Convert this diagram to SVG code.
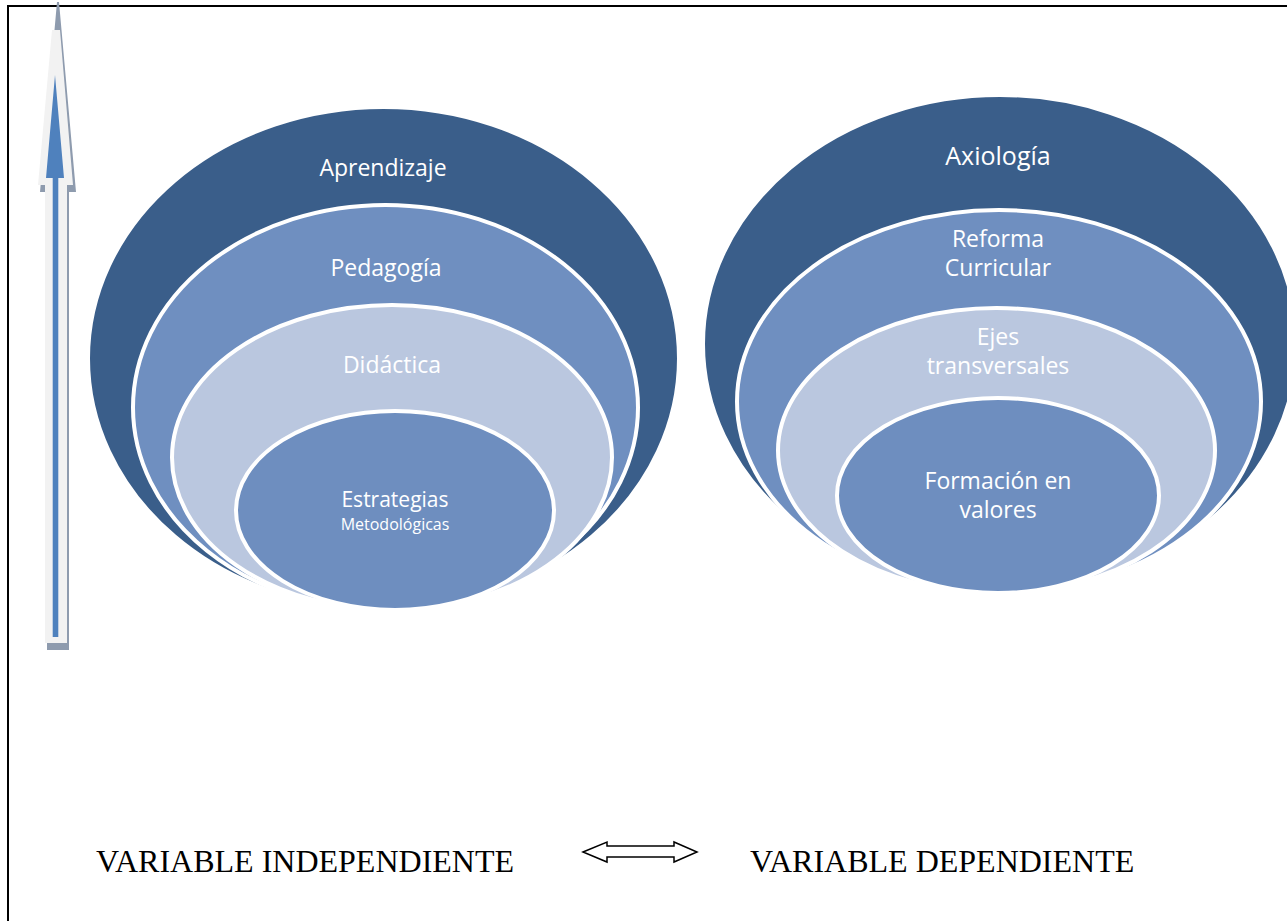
<svg xmlns="http://www.w3.org/2000/svg" width="1287" height="921" viewBox="0 0 1287 921">
<style>
.ring{stroke:#FFFFFF;stroke-width:4}
.dark{fill:#3A5E8A}
.mid{fill:#6F8FC0}
.light{fill:#BAC7DF}
.inner{fill:#6E8EBF}
.t{font-family:"Open Sans","Liberation Sans",sans-serif;fill:#FFFFFF;text-anchor:middle}
.v{font-family:"Liberation Serif","Times New Roman",serif;fill:#000000;font-size:32px}
</style>
<rect x="0" y="0" width="1287" height="921" fill="#FFFFFF"/>
<g id="border" stroke="#000000" stroke-width="2" fill="none">
<line x1="7" y1="6" x2="1287" y2="6"/>
<line x1="8" y1="6" x2="8" y2="921"/>
</g>
<g id="left-target">
<g id="aprendizaje">
<ellipse class="ring dark" cx="383.5" cy="358.5" rx="295.5" ry="251.5"/>
<text class="t" x="383" y="176" font-size="23">Aprendizaje</text>
</g>
<g id="pedagogia">
<ellipse class="ring mid" cx="385.5" cy="407.5" rx="252.5" ry="202.5"/>
<text class="t" x="386" y="276" font-size="23">Pedagogía</text>
</g>
<g id="didactica">
<ellipse class="ring light" cx="392" cy="457.5" rx="220" ry="152.5"/>
<text class="t" x="392" y="373" font-size="23">Didáctica</text>
</g>
<g id="estrategias">
<ellipse class="ring inner" cx="395" cy="510.5" rx="159" ry="99.5"/>
<text class="t" x="395" y="507" font-size="21">Estrategias</text>
<text class="t" x="395" y="530" font-size="16">Metodológicas</text>
</g>
</g>
<g id="right-target">
<g id="axiologia">
<ellipse class="ring dark" cx="1000" cy="344" rx="297" ry="249"/>
<text class="t" x="998" y="165" font-size="25">Axiología</text>
</g>
<g id="reforma">
<ellipse class="ring mid" cx="999" cy="401.5" rx="262" ry="191.5"/>
<text class="t" x="998" y="247" font-size="23">Reforma</text>
<text class="t" x="998" y="276" font-size="23">Curricular</text>
</g>
<g id="ejes">
<ellipse class="ring light" cx="996.5" cy="450.5" rx="218.5" ry="142.5"/>
<text class="t" x="998" y="345" font-size="23">Ejes</text>
<text class="t" x="998" y="374" font-size="23">transversales</text>
</g>
<g id="formacion">
<ellipse class="ring inner" cx="998" cy="495.5" rx="161" ry="97.5"/>
<text class="t" x="998" y="489" font-size="23">Formación en</text>
<text class="t" x="998" y="518" font-size="23">valores</text>
</g>
</g>
<g id="labels">
<text class="v" x="96" y="872">VARIABLE INDEPENDIENTE</text>
<text class="v" x="750" y="872">VARIABLE DEPENDIENTE</text>
</g>
<g id="connectors">
<g id="vertical-arrow">
<polygon fill="#8E9BAE" points="57,2 59,2 76,192 69,192 69,650 47,650 47,192 40,192"/>
<polygon fill="#F2F2F2" points="52,30 60,30 73,185 67,185 67,643 45,643 45,185 38,185"/>
<polygon fill="#4F81BD" points="55,75 64,178 58.3,178 58.3,637 52.7,637 52.7,178 46,178"/>
</g>
<polygon id="double-arrow" fill="#FFFFFF" stroke="#000000" stroke-width="1.5" points="583,852 607,842 607,846 674,846 674,842 697,852 674,862 674,857 607,857 607,862"/>
</g>
</svg>
